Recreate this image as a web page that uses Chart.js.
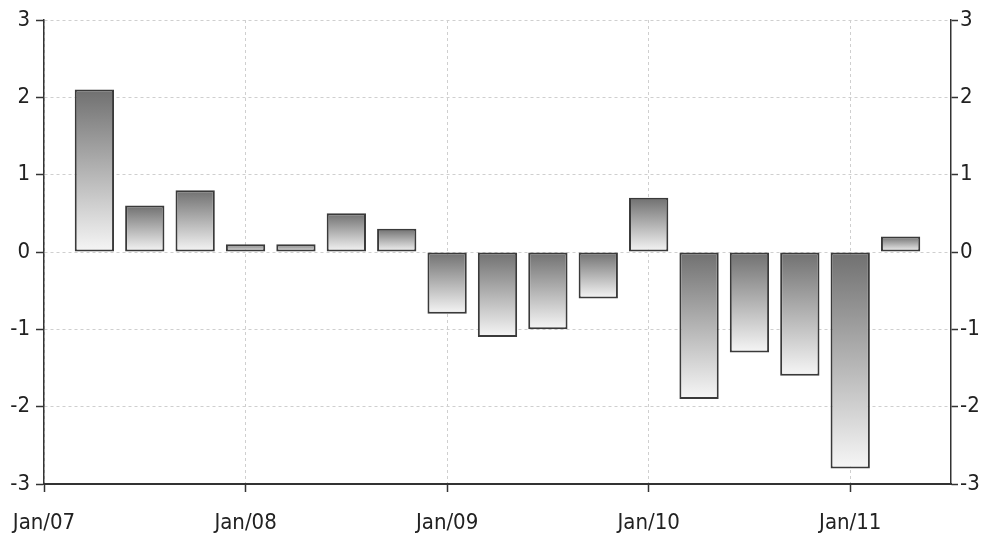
<!DOCTYPE html>
<html>
<head>
<meta charset="utf-8">
<script src="https://cdn.jsdelivr.net/npm/chart.js@4/dist/chart.umd.min.js"></script>
<style>
html,body{margin:0;padding:0;background:#fff;}
#wrap{width:983px;height:538px;}
</style>
</head>
<body>
<div id="wrap"><canvas id="c" width="983" height="538"></canvas></div>
<script>
// Quarter of each bar (year-month of period)
const quarters = ['2007-04','2007-07','2007-10','2008-01','2008-04','2008-07','2008-10',
                  '2009-01','2009-04','2009-07','2009-10','2010-01','2010-04','2010-07',
                  '2010-10','2011-01','2011-04'];
const values = [2.1, 0.6, 0.8, 0.1, 0.1, 0.5, 0.3, -0.8, -1.1, -1.0, -0.6, 0.7, -1.9, -1.3, -1.6, -2.8, 0.2];
const xTickLabels = ['Jan/07','Jan/08','Jan/09','Jan/10','Jan/11'];
const yTicks = [-3,-2,-1,0,1,2,3];

const startYear = 2007;
function quarterIndex(s){
  const [y,m] = s.split('-').map(Number);
  return (y - startYear) * 4 + (m - 1) / 3;
}
const points = quarters.map((q,i) => ({x: quarterIndex(q), y: values[i]}));

const FONT = "'Liberation Sans Narrow', 'DejaVu Sans Condensed', 'Arial Narrow', sans-serif";
const GRID = '#cfcfcf';
const AXIS = '#333333';

function barGradient(ctx){
  const chart = ctx.chart;
  const ya = chart.scales && chart.scales.y;
  if (ctx.type !== 'data' || !ya || !chart.chartArea) return '#aaaaaa';
  const v = ctx.raw.y;
  const p1 = ya.getPixelForValue(v), p0 = ya.getPixelForValue(0);
  const top = Math.min(p0,p1), bot = Math.max(p0,p1);
  if (!isFinite(top) || !isFinite(bot) || bot - top < 0.5) return '#aaaaaa';
  const g = chart.ctx.createLinearGradient(0, top, 0, bot);
  g.addColorStop(0, '#707070');
  g.addColorStop(1, '#f6f6f6');
  return g;
}

new Chart(document.getElementById('c'), {
  type: 'bar',
  data: {
    datasets: [{
      data: points,
      backgroundColor: barGradient,
      borderColor: '#3a3a3a',
      borderWidth: 2,
      borderSkipped: false,
      barPercentage: 0.78,
      categoryPercentage: 1.0
    }]
  },
  options: {
    responsive: false,
    animation: false,
    layout: { padding: { top: 20, left: 0, right: 0, bottom: 0 } },
    plugins: { legend: { display: false }, tooltip: { enabled: false } },
    scales: {
      x: {
        type: 'linear',
        offset: false,
        min: 0,
        max: 18,
        afterBuildTicks: (axis) => { axis.ticks = xTickLabels.map((_, i) => ({value: i * 4})); },
        afterFit: (axis) => { axis.height = 54; axis.paddingLeft = 0; axis.paddingRight = 0; },
        ticks: {
          callback: (v) => xTickLabels[Math.round(v / 4)],
          font: { family: FONT, size: 22 },
          color: '#222222',
          padding: 18,
          maxRotation: 0,
          autoSkip: false
        },
        grid: {
          offset: false,
          color: GRID,
          tickColor: AXIS,
          tickLength: 8,
          tickWidth: 1.5,
          lineWidth: 1
        },
        border: { display: true, color: AXIS, width: 2, dash: [3, 3] }
      },
      y: {
        position: 'left',
        min: -3,
        max: 3,
        afterBuildTicks: (axis) => { axis.ticks = yTicks.map(v => ({value: v})); },
        afterFit: (axis) => { axis.width = 44; axis.paddingTop = 0; axis.paddingBottom = 0; },
        ticks: {
          font: { family: FONT, size: 22 },
          color: '#222222',
          padding: 6
        },
        grid: {
          color: GRID,
          tickColor: AXIS,
          tickLength: 8,
          tickWidth: 1.5,
          lineWidth: 1
        },
        border: { display: true, color: AXIS, width: 1.5, dash: [3, 3] }
      },
      y2: {
        position: 'right',
        min: -3,
        max: 3,
        afterBuildTicks: (axis) => { axis.ticks = yTicks.map(v => ({value: v})); },
        afterFit: (axis) => { axis.width = 32; axis.paddingTop = 0; axis.paddingBottom = 0; },
        ticks: {
          font: { family: FONT, size: 22 },
          color: '#222222',
          padding: 2
        },
        grid: {
          drawOnChartArea: false,
          color: GRID,
          tickColor: AXIS,
          tickLength: 7,
          tickWidth: 1.5
        },
        border: { display: true, color: AXIS, width: 1.5 }
      }
    }
  }
});
</script>
</body>
</html>
